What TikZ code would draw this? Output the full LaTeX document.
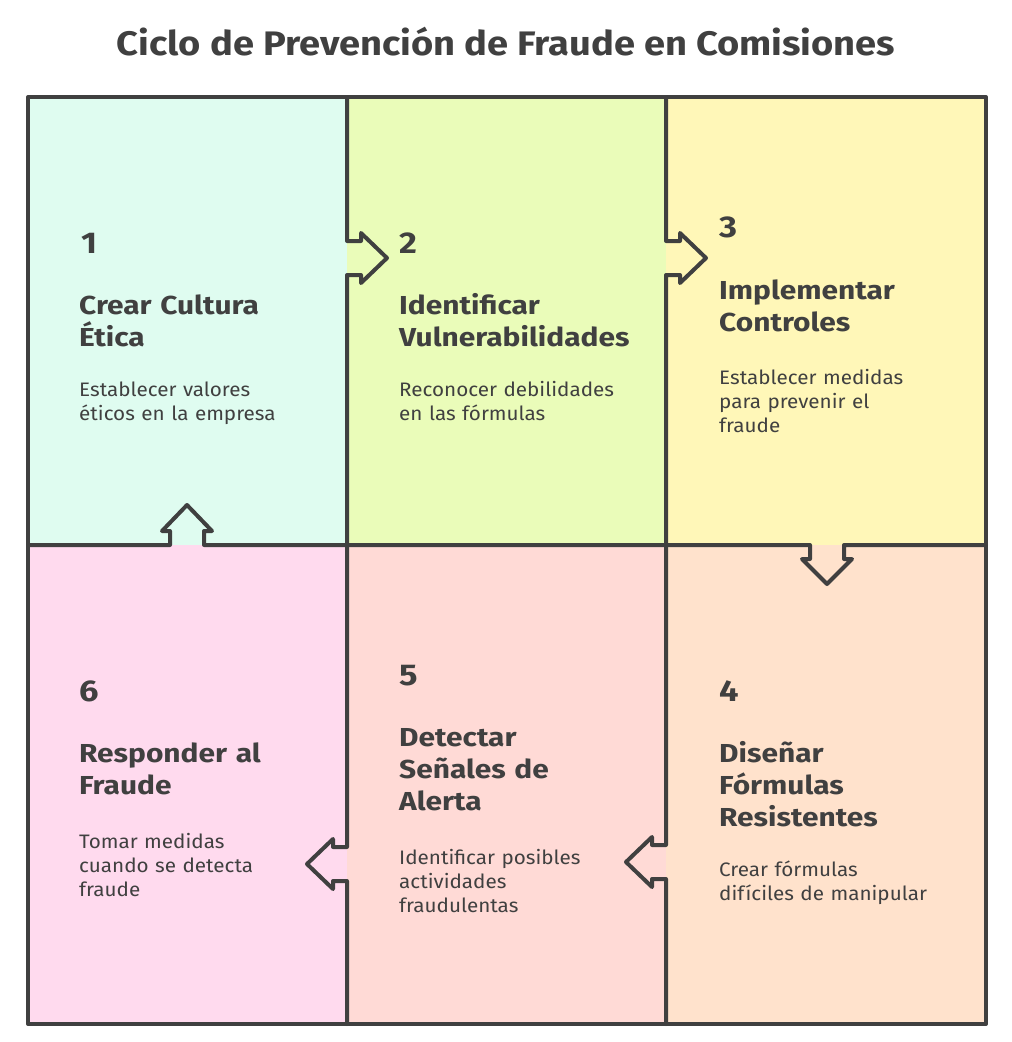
\documentclass[tikz,border=0pt]{standalone}
\usepackage{fontspec}
\setmainfont{Fira Sans}
\newfontfamily\headfont[FakeStretch=1.15]{Fira Sans}
\newfontfamily\descfont[FakeStretch=1.06]{Fira Sans}
\newfontfamily\titlefont[FakeStretch=1.12]{Fira Sans}
\definecolor{ink}{HTML}{404040}
\definecolor{cA}{HTML}{DFFCF0}
\definecolor{cB}{HTML}{EAFCB9}
\definecolor{cC}{HTML}{FFF7B8}
\definecolor{cD}{HTML}{FFE2CC}
\definecolor{cE}{HTML}{FFDAD6}
\definecolor{cF}{HTML}{FFDAEE}
\tikzset{
  gridline/.style={draw=ink,line width=4pt,line join=round,line cap=round},
  numtxt/.style={anchor=base west,inner sep=0pt,text=ink,font={\headfont\bfseries\fontsize{30}{30}\selectfont}},
  headtxt/.style={anchor=base west,inner sep=0pt,text=ink,align=left,text width=260pt,font={\headfont\bfseries\fontsize{26}{32}\selectfont}},
  desctxt/.style={anchor=base west,inner sep=0pt,text=ink,align=left,text width=260pt,font={\descfont\fontsize{19.5}{24}\selectfont}},
  titletxt/.style={inner sep=0pt,text=ink,font={\titlefont\bfseries\fontsize{34}{34}\selectfont}}
}
\begin{document}
\begin{tikzpicture}[x=1pt,y=-1pt]
\useasboundingbox (0,0) rectangle (1012,1042);
% cell fills
\fill[cA] (28,97) rectangle (347,545);
\fill[cB] (347,97) rectangle (666,545);
\fill[cC] (666,97) rectangle (986,545);
\fill[cF] (28,545) rectangle (347,1024);
\fill[cE] (347,545) rectangle (666,1024);
\fill[cD] (666,545) rectangle (986,1024);
% title
\node[titletxt] (title) at (506,42) {Ciclo de Prevención de Fraude en Comisiones};
% grid
\draw[gridline] (28,97) rectangle (986,1024);
\draw[gridline] (347,97) -- (347,241) -- (361,241) -- (361,233) -- (387,258) -- (361,283) -- (361,275) -- (347,275) -- (347,545);
\draw[gridline] (666,97) -- (666,241) -- (680,241) -- (680,233) -- (706,258) -- (680,283) -- (680,275) -- (666,275) -- (666,545);
\draw[gridline] (347,545) -- (347,847) -- (333,847) -- (333,839) -- (307,864) -- (333,889) -- (333,881) -- (347,881) -- (347,1024);
\draw[gridline] (666,545) -- (666,845) -- (652,845) -- (652,837) -- (626,862) -- (652,887) -- (652,879) -- (666,879) -- (666,1024);
\draw[gridline] (28,545) -- (170,545) -- (170,531) -- (162,531) -- (187,505) -- (212,531) -- (204,531) -- (204,545)
  -- (810,545) -- (810,559) -- (802,559) -- (827,584) -- (852,559) -- (844,559) -- (844,545) -- (986,545);
% cell 1
\node[numtxt] (n1) at (81,253) {1};
\node[headtxt] (h1) at (79,314) {Crear Cultura\\Ética};
\node[desctxt] (d1) at (79,396) {Establecer valores\\éticos en la empresa};
% cell 2
\node[numtxt] (n2) at (399,253) {2};
\node[headtxt] (h2) at (399,314) {Identificar\\Vulnerabilidades};
\node[desctxt] (d2) at (399,396) {Reconocer debilidades\\en las fórmulas};
% cell 3
\node[numtxt] (n3) at (719,237) {3};
\node[headtxt] (h3) at (719,299) {Implementar\\Controles};
\node[desctxt] (d3) at (719,384) {Establecer medidas\\para prevenir el\\fraude};
% cell 4
\node[numtxt] (n4) at (719,701) {4};
\node[headtxt] (h4) at (719,762) {Diseñar\\Fórmulas\\Resistentes};
\node[desctxt] (d4) at (719,876) {Crear fórmulas\\difíciles de manipular};
% cell 5
\node[numtxt] (n5) at (399,685) {5};
\node[headtxt] (h5) at (399,746) {Detectar\\Señales de\\Alerta};
\node[desctxt] (d5) at (399,864) {Identificar posibles\\actividades\\fraudulentas};
% cell 6
\node[numtxt] (n6) at (79,701) {6};
\node[headtxt] (h6) at (79,762) {Responder al\\Fraude};
\node[desctxt] (d6) at (79,848) {Tomar medidas\\cuando se detecta\\fraude};
\end{tikzpicture}
\end{document}
